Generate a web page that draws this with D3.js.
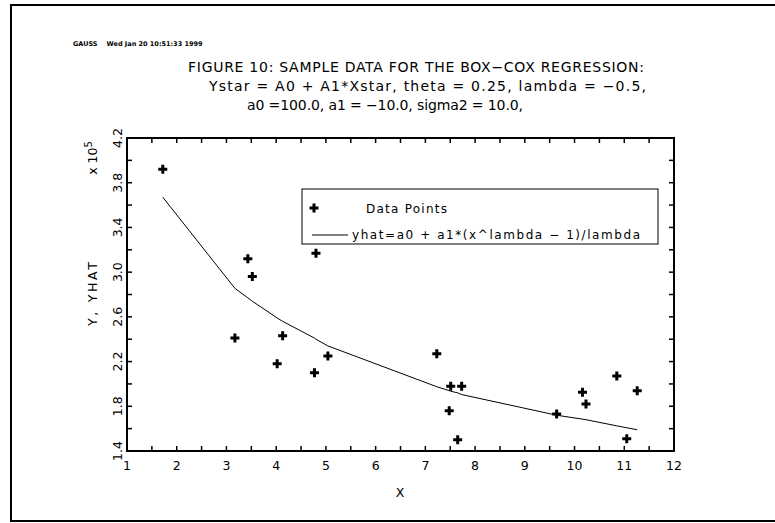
<!DOCTYPE html>
<html>
<head>
<meta charset="utf-8">
<title>Box-Cox sample data</title>
<script src="https://cdn.jsdelivr.net/npm/d3@7"></script>
<style>
body { margin: 0; background: #fff; }
svg text { font-family: "DejaVu Sans", "Liberation Sans", sans-serif; fill: #000; }
.hdr { font-size: 6.5px; font-weight: bold; }
.ttl { font-size: 14px; }
.tick-lbl { font-size: 12.5px; }
.lgd { font-size: 12px; }
</style>
</head>
<body>
<script>
// data (Y values in units of 10^5)
var xs   = [1.72, 3.17, 3.43, 3.52, 4.02, 4.13, 4.77, 4.80, 5.04, 7.23, 7.48, 7.51, 7.65, 7.73, 9.64, 10.16, 10.23, 10.85, 11.05, 11.26];
var ys   = [3.92, 2.41, 3.12, 2.96, 2.18, 2.43, 2.10, 3.17, 2.25, 2.27, 1.76, 1.98, 1.50, 1.98, 1.73, 1.925, 1.82, 2.07, 1.51, 1.94];
var yhat = [3.67, 2.855, 2.77, 2.74, 2.59, 2.56, 2.41, 2.40, 2.34, 1.975, 1.94, 1.935, 1.92, 1.905, 1.72, 1.685, 1.68, 1.625, 1.608, 1.59];
var xTicks = [1, 2, 3, 4, 5, 6, 7, 8, 9, 10, 11, 12];
var yTicks = [1.4, 1.8, 2.2, 2.6, 3.0, 3.4, 3.8, 4.2];
var titleLines = [
  "FIGURE 10: SAMPLE DATA FOR THE BOX\u2212COX REGRESSION:",
  "Ystar = A0 + A1*Xstar, theta = 0.25, lambda = \u22120.5,",
  "a0 =100.0, a1 = \u221210.0, sigma2 = 10.0,"
];
var legendLabels = ["Data Points", "yhat=a0 + a1*(x^lambda \u2212 1)/lambda"];

var W = 775, H = 523;
var L = 127, R = 674, T = 138, B = 451;

var svg = d3.select("body").append("svg").attr("width", W).attr("height", H);

// page border (right edge falls outside the picture)
svg.append("rect").attr("x", 11).attr("y", 5).attr("width", 800).attr("height", 516)
  .attr("fill", "none").attr("stroke", "#000").attr("stroke-width", 2);

svg.append("text").attr("class", "hdr").attr("x", 73).attr("y", 46)
  .attr("xml:space", "preserve").text("GAUSS    Wed Jan 20 10:51:33 1999");

// GAUSS stroke font is a bit wider than ours, so stretch to the measured widths
var titleX = [188, 209, 247], titleW = [456, 437, 276];
titleLines.forEach(function(t, i) {
  svg.append("text").attr("class", "ttl").attr("x", titleX[i]).attr("y", 72 + i * 19)
    .attr("textLength", titleW[i]).attr("lengthAdjust", "spacing").text(t);
});

var x = d3.scaleLinear().domain([1, 12]).range([L, R]);
var y = d3.scaleLinear().domain([1.4, 4.2]).range([B, T]);

// ticks, all pointing inward
var g = svg.append("g");
var xMinor = d3.range(1, 12.01, 0.5);
var yMinor = d3.range(1.4, 4.201, 0.2);
xMinor.forEach(function(v) {
  g.append("line").attr("x1", x(v)).attr("x2", x(v)).attr("y1", B).attr("y2", B - 5);
  g.append("line").attr("x1", x(v)).attr("x2", x(v)).attr("y1", T).attr("y2", T + 5);
});
yMinor.forEach(function(v) {
  g.append("line").attr("y1", y(v)).attr("y2", y(v)).attr("x1", L).attr("x2", L + 5);
  g.append("line").attr("y1", y(v)).attr("y2", y(v)).attr("x1", R).attr("x2", R - 5);
});
g.selectAll("line").attr("stroke", "#000").attr("stroke-width", 1.5);

svg.append("rect").attr("x", L).attr("y", T).attr("width", R - L).attr("height", B - T)
  .attr("fill", "none").attr("stroke", "#000").attr("stroke-width", 2);

svg.selectAll(".xl").data(xTicks).enter().append("text").attr("class", "tick-lbl")
  .attr("x", function(d) { return x(d); }).attr("y", 470)
  .attr("text-anchor", "middle").text(function(d) { return d; });

svg.selectAll(".yl").data(yTicks).enter().append("text").attr("class", "tick-lbl")
  .attr("transform", function(d) { return "translate(122," + y(d) + ") rotate(-90)"; })
  .attr("text-anchor", "middle").text(function(d) { return d.toFixed(1); });

svg.append("text").attr("class", "tick-lbl").attr("x", 400).attr("y", 497)
  .attr("text-anchor", "middle").text("X");

svg.append("text").attr("class", "tick-lbl")
  .attr("transform", "translate(97,262) rotate(-90)")
  .attr("textLength", 64).attr("lengthAdjust", "spacing")
  .attr("x", -64).text("Y, YHAT");

var mult = svg.append("text").attr("class", "tick-lbl")
  .attr("transform", "translate(97,158) rotate(-90)").attr("text-anchor", "middle");
mult.append("tspan").text("x 10");
mult.append("tspan").attr("dy", -5).style("font-size", "10px").text("5");

// fitted line
var line = d3.line().x(function(d) { return x(d[0]); }).y(function(d) { return y(d[1]); });
svg.append("path").datum(d3.zip(xs, yhat)).attr("d", line)
  .attr("fill", "none").attr("stroke", "#000").attr("stroke-width", 1);

// plus markers
function drawPlus(sel) {
  sel.append("path").attr("d", "M-4.5,0H4.5M0,-4.5V4.5")
    .attr("stroke", "#000").attr("stroke-width", 3).attr("fill", "none");
}
svg.selectAll(".pt").data(d3.zip(xs, ys)).enter().append("g")
  .attr("transform", function(d) { return "translate(" + x(d[0]) + "," + y(d[1]) + ")"; })
  .call(drawPlus);

// legend
svg.append("rect").attr("x", 302).attr("y", 189).attr("width", 356).attr("height", 55)
  .attr("fill", "#fff").attr("stroke", "#000").attr("stroke-width", 1);
svg.append("g").attr("transform", "translate(314,208)").call(drawPlus);
svg.append("line").attr("x1", 312).attr("x2", 348).attr("y1", 235).attr("y2", 235)
  .attr("stroke", "#000").attr("stroke-width", 1);
svg.append("text").attr("class", "lgd").attr("x", 366).attr("y", 213)
  .attr("textLength", 81).attr("lengthAdjust", "spacing").text(legendLabels[0]);
svg.append("text").attr("class", "lgd").attr("x", 352).attr("y", 239)
  .attr("textLength", 288).attr("lengthAdjust", "spacing").text(legendLabels[1]);
</script>
</body>
</html>
